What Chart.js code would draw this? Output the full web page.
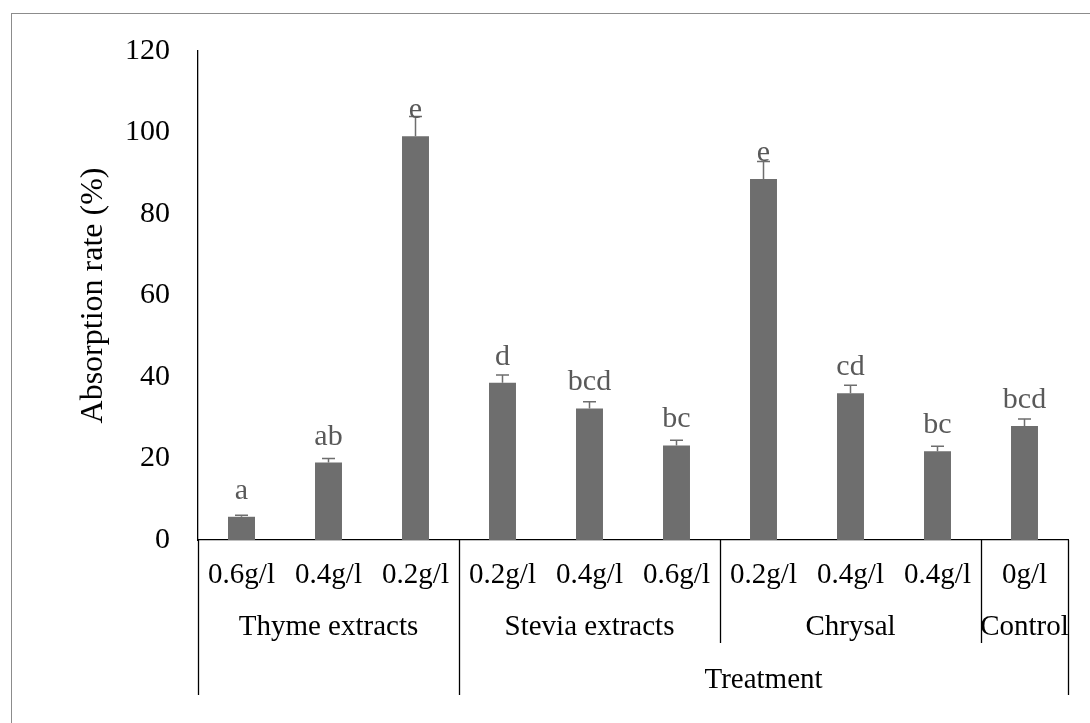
<!DOCTYPE html>
<html>
<head>
<meta charset="utf-8">
<script src="https://cdn.jsdelivr.net/npm/chart.js@4.4.1/dist/chart.umd.min.js"></script>
<style>
  html, body { margin: 0; padding: 0; background: #fff; overflow: hidden; }
  #wrap { position: relative; width: 1090px; height: 723px; }
  #frame { position: absolute; left: 11px; top: 13px; right: -4px; bottom: -4px; border: 1px solid #8c8c8c; pointer-events: none; }
  canvas { position: absolute; left: 0; top: 0; }
</style>
</head>
<body>
<div id="wrap">
  <canvas id="chart" width="1090" height="723"></canvas>
  <div id="frame"></div>
</div>
<script>
// doses (first row under the axis)
const doses = ['0.6g/l', '0.4g/l', '0.2g/l', '0.2g/l', '0.4g/l', '0.6g/l', '0.2g/l', '0.4g/l', '0.4g/l', '0g/l'];
// treatment groups (second row) and how many bars each covers
const groupNames = ['Thyme extracts', 'Stevia extracts', 'Chrysal', 'Control'];
const groupSizes = [3, 3, 3, 1];
// outer row: one label starting at this bar index and running to the end
const outerLabel = 'Treatment';
const outerStart = 3;

const absorption = [5.7, 19.0, 99.1, 38.6, 32.3, 23.2, 88.6, 36.0, 21.8, 28.0];
const errors = [0.35, 1.0, 4.8, 1.9, 1.6, 1.3, 4.3, 2.0, 1.2, 1.7];
const letters = ['a', 'ab', 'e', 'd', 'bcd', 'bc', 'e', 'cd', 'bc', 'bcd'];

const SERIF = '"Liberation Serif", "Times New Roman", serif';
const BAR = '#6e6e6e';

// error bars + letters above each bar
const barExtras = {
  id: 'barExtras',
  afterDatasetsDraw(chart) {
    const { ctx, scales: { x, y } } = chart;
    ctx.save();
    ctx.strokeStyle = BAR;
    ctx.lineWidth = 1.5;
    absorption.forEach((v, i) => {
      const cx = x.getPixelForValue(i);
      const top = y.getPixelForValue(v);
      const hi = y.getPixelForValue(v + errors[i]);
      ctx.beginPath();
      ctx.moveTo(cx, top);
      ctx.lineTo(cx, hi);
      ctx.moveTo(cx - 6.5, hi);
      ctx.lineTo(cx + 6.5, hi);
      ctx.stroke();
    });
    ctx.fillStyle = '#595959';
    ctx.font = '30px ' + SERIF;
    ctx.textAlign = 'center';
    ctx.textBaseline = 'alphabetic';
    letters.forEach((t, i) => {
      ctx.fillText(t, x.getPixelForValue(i), y.getPixelForValue(absorption[i]) - 18);
    });
    ctx.restore();
  }
};

// multi-level category labels and divider lines below the x axis
const multiLevelAxis = {
  id: 'multiLevelAxis',
  afterDraw(chart) {
    const { ctx, scales: { x } } = chart;
    const base = chart.chartArea.bottom;
    const row1 = base + 35, row2 = base + 87, row3 = base + 140;
    const groupEnd = base + 103, outerEnd = base + 155;
    const edge = i => x.getPixelForValue(i - 0.5);

    ctx.save();
    ctx.fillStyle = '#000';
    ctx.textAlign = 'center';
    ctx.textBaseline = 'middle';
    ctx.font = '29px ' + SERIF;
    doses.forEach((d, i) => ctx.fillText(d, x.getPixelForValue(i), row1));

    ctx.strokeStyle = '#000';
    ctx.lineWidth = 1.3;
    let start = 0;
    const bounds = [0];
    groupNames.forEach((g, k) => {
      const end = start + groupSizes[k];
      ctx.fillText(g, (edge(start) + edge(end)) / 2, row2);
      bounds.push(end);
      start = end;
    });
    ctx.fillText(outerLabel, (edge(outerStart) + edge(doses.length)) / 2, row3);

    bounds.forEach(b => {
      const outer = b === 0 || b === outerStart || b === doses.length;
      const px = Math.round(edge(b)) + 0.5;
      ctx.beginPath();
      ctx.moveTo(px, base);
      ctx.lineTo(px, outer ? outerEnd : groupEnd);
      ctx.stroke();
    });
    ctx.restore();
  }
};

new Chart(document.getElementById('chart'), {
  type: 'bar',
  data: {
    labels: doses,
    datasets: [{
      data: absorption,
      backgroundColor: BAR,
      borderWidth: 0,
      barPercentage: 0.31,
      categoryPercentage: 1
    }]
  },
  options: {
    responsive: false,
    devicePixelRatio: 1,
    animation: false,
    layout: { padding: { top: 51, right: 22, left: 0, bottom: 0 } },
    plugins: { legend: { display: false }, tooltip: { enabled: false } },
    scales: {
      x: {
        grid: { display: false, drawTicks: false },
        border: { display: true, color: '#000', width: 1.3 },
        ticks: { display: false },
        afterFit: s => { s.height = 183; }
      },
      y: {
        min: 0,
        max: 120,
        ticks: { stepSize: 20, color: '#000', padding: 28, font: { family: SERIF, size: 30 } },
        grid: { display: false, drawTicks: false },
        border: { display: true, color: '#000', width: 1.3 },
        title: {
          display: true,
          text: 'Absorption rate (%)',
          color: '#000',
          font: { family: SERIF, size: 32 },
          padding: { top: 74, bottom: 0 }
        },
        afterFit: s => { s.width = 198; }
      }
    }
  },
  plugins: [barExtras, multiLevelAxis]
});
</script>
</body>
</html>
